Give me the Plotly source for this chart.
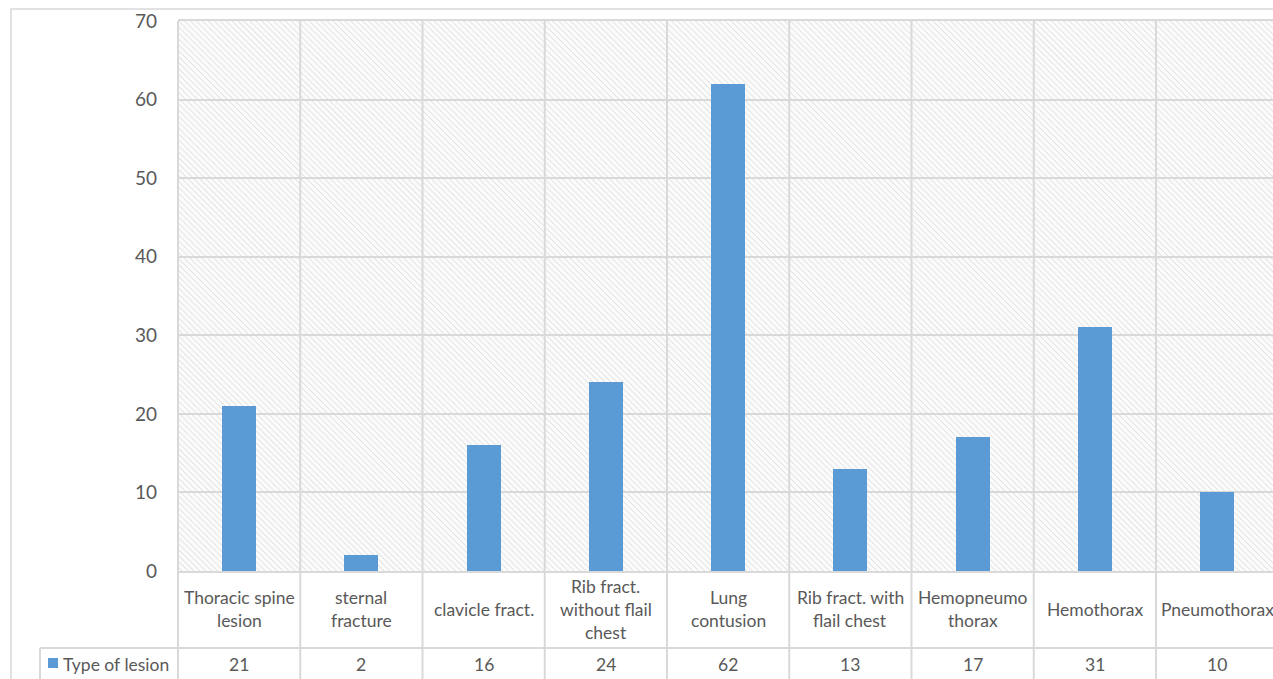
import base64
import plotly.graph_objects as go

# Chart data
categories = [
    "Thoracic spine<br>lesion",
    "sternal<br>fracture",
    "clavicle fract.",
    "Rib fract.<br>without flail<br>chest",
    "Lung<br>contusion",
    "Rib fract. with<br>flail chest",
    "Hemopneumo<br>thorax",
    "Hemothorax",
    "Pneumothorax",
]
series_name = "Type of lesion"
lesion_counts = [21, 2, 16, 24, 62, 13, 17, 31, 10]
y_ticks = [0, 10, 20, 30, 40, 50, 60, 70]

# Page / plot-area geometry (pixels)
W, H = 1273, 679
M_L, M_R, M_T, M_B = 178, 0, 21, 108
PW = W - M_L - M_R
PH = H - M_T - M_B
X_RANGE = [-0.5, 8.457]
Y_RANGE = [0, 70]

TEXT = "#595959"
GRID = "#d9d9d9"
BAR = "#5b9bd5"
FONT = "Lato"
TABLE_FONT_SIZE = 17.5

HEADER_BOTTOM = 648      # bottom of the category-label row of the data table
VALUE_ROW_MID = 664
LABEL_MID = 609
LINE_STEP = 23


def px_x(px):
    return (px - M_L) / PW


def px_y(py):
    return (H - M_B - py) / PH


def data_x_to_px(x):
    return M_L + (x - X_RANGE[0]) / (X_RANGE[1] - X_RANGE[0]) * PW


x_pos = list(range(len(categories)))

fig = go.Figure()
fig.add_trace(go.Bar(
    x=x_pos,
    y=lesion_counts,
    width=0.28,
    marker=dict(color=BAR, line=dict(width=0)),
    name=series_name,
    showlegend=False,
    hoverinfo="x+y",
))

# Diagonal hatch fill for the plot area
hatch_svg = (
    f"<svg xmlns='http://www.w3.org/2000/svg' width='{PW}' height='{PH}'>"
    "<defs><pattern id='h' width='4.2' height='4.2' patternUnits='userSpaceOnUse' "
    "patternTransform='rotate(-45)'>"
    "<rect width='4.2' height='4.2' fill='#fbfbfb'/>"
    "<line x1='0' y1='0' x2='0' y2='4.2' stroke='#e0e0e0' stroke-width='1.6'/>"
    "</pattern></defs>"
    "<rect width='100%' height='100%' fill='url(#h)'/></svg>"
)
hatch_uri = "data:image/svg+xml;base64," + base64.b64encode(hatch_svg.encode()).decode()

shapes = []
line_style = dict(color=GRID, width=2)

# outer chart frame
shapes.append(dict(type="rect", xref="paper", yref="paper",
                   x0=px_x(11), x1=px_x(W + 30), y0=px_y(9), y1=px_y(H + 30),
                   line=dict(color=GRID, width=1.5), fillcolor="rgba(0,0,0,0)", layer="below"))

# category boundaries running from the top of the plot through the data table
for i in range(len(categories) + 1):
    bx = data_x_to_px(i - 0.5)
    if bx > W + 2:
        continue
    shapes.append(dict(type="line", xref="paper", yref="paper",
                       x0=px_x(bx), x1=px_x(bx), y0=1, y1=px_y(H + 5),
                       line=line_style, layer="above"))

# data table row separator and left edge of the series-name cell
shapes.append(dict(type="line", xref="paper", yref="paper",
                   x0=px_x(40), x1=px_x(W + 5), y0=px_y(HEADER_BOTTOM), y1=px_y(HEADER_BOTTOM),
                   line=line_style))
shapes.append(dict(type="line", xref="paper", yref="paper",
                   x0=px_x(40), x1=px_x(40), y0=px_y(HEADER_BOTTOM), y1=px_y(H + 5),
                   line=line_style))

# legend key in the data table
shapes.append(dict(type="rect", xref="paper", yref="paper",
                   x0=px_x(48), x1=px_x(58), y0=px_y(658), y1=px_y(668),
                   line=dict(width=0), fillcolor=BAR))

annotations = []
# category labels, one annotation per text line
for i, cat in enumerate(categories):
    lines = cat.split("<br>")
    n = len(lines)
    for j, ln in enumerate(lines):
        cy = LABEL_MID + (j - (n - 1) / 2) * LINE_STEP
        annotations.append(dict(
            x=i, xref="x", y=px_y(cy), yref="paper", text=ln, showarrow=False,
            xanchor="center", yanchor="middle",
            font=dict(family=FONT, size=TABLE_FONT_SIZE, color=TEXT),
        ))
# values row
for i, v in enumerate(lesion_counts):
    annotations.append(dict(
        x=i, xref="x", y=px_y(VALUE_ROW_MID), yref="paper", text=str(v), showarrow=False,
        xanchor="center", yanchor="middle",
        font=dict(family=FONT, size=TABLE_FONT_SIZE, color=TEXT),
    ))
# series name in the data table
annotations.append(dict(
    x=px_x(61), xref="paper", y=px_y(VALUE_ROW_MID), yref="paper", text=series_name,
    showarrow=False, xanchor="left", yanchor="middle",
    font=dict(family=FONT, size=TABLE_FONT_SIZE, color=TEXT),
))

fig.update_layout(
    width=W, height=H,
    margin=dict(l=M_L, r=M_R, t=M_T, b=M_B, pad=0),
    paper_bgcolor="white",
    plot_bgcolor="rgba(0,0,0,0)",
    font=dict(family=FONT, color=TEXT),
    bargap=0,
    xaxis=dict(
        range=X_RANGE, showticklabels=False, showgrid=False, zeroline=False,
        showline=True, mirror=True, linecolor=GRID, linewidth=2, ticks="",
        fixedrange=True,
    ),
    yaxis=dict(
        range=Y_RANGE, tickvals=y_ticks, showgrid=True, gridcolor=GRID, gridwidth=2,
        zeroline=False, showline=False, ticks="", ticklabelstandoff=20,
        tickfont=dict(family=FONT, size=19, color=TEXT), fixedrange=True,
    ),
    images=[dict(source=hatch_uri, xref="paper", yref="paper", x=0, y=1,
                 sizex=1, sizey=1, sizing="stretch", xanchor="left", yanchor="top",
                 layer="below")],
    shapes=shapes,
    annotations=annotations,
    showlegend=False,
)

fig.write_html("out.html")
